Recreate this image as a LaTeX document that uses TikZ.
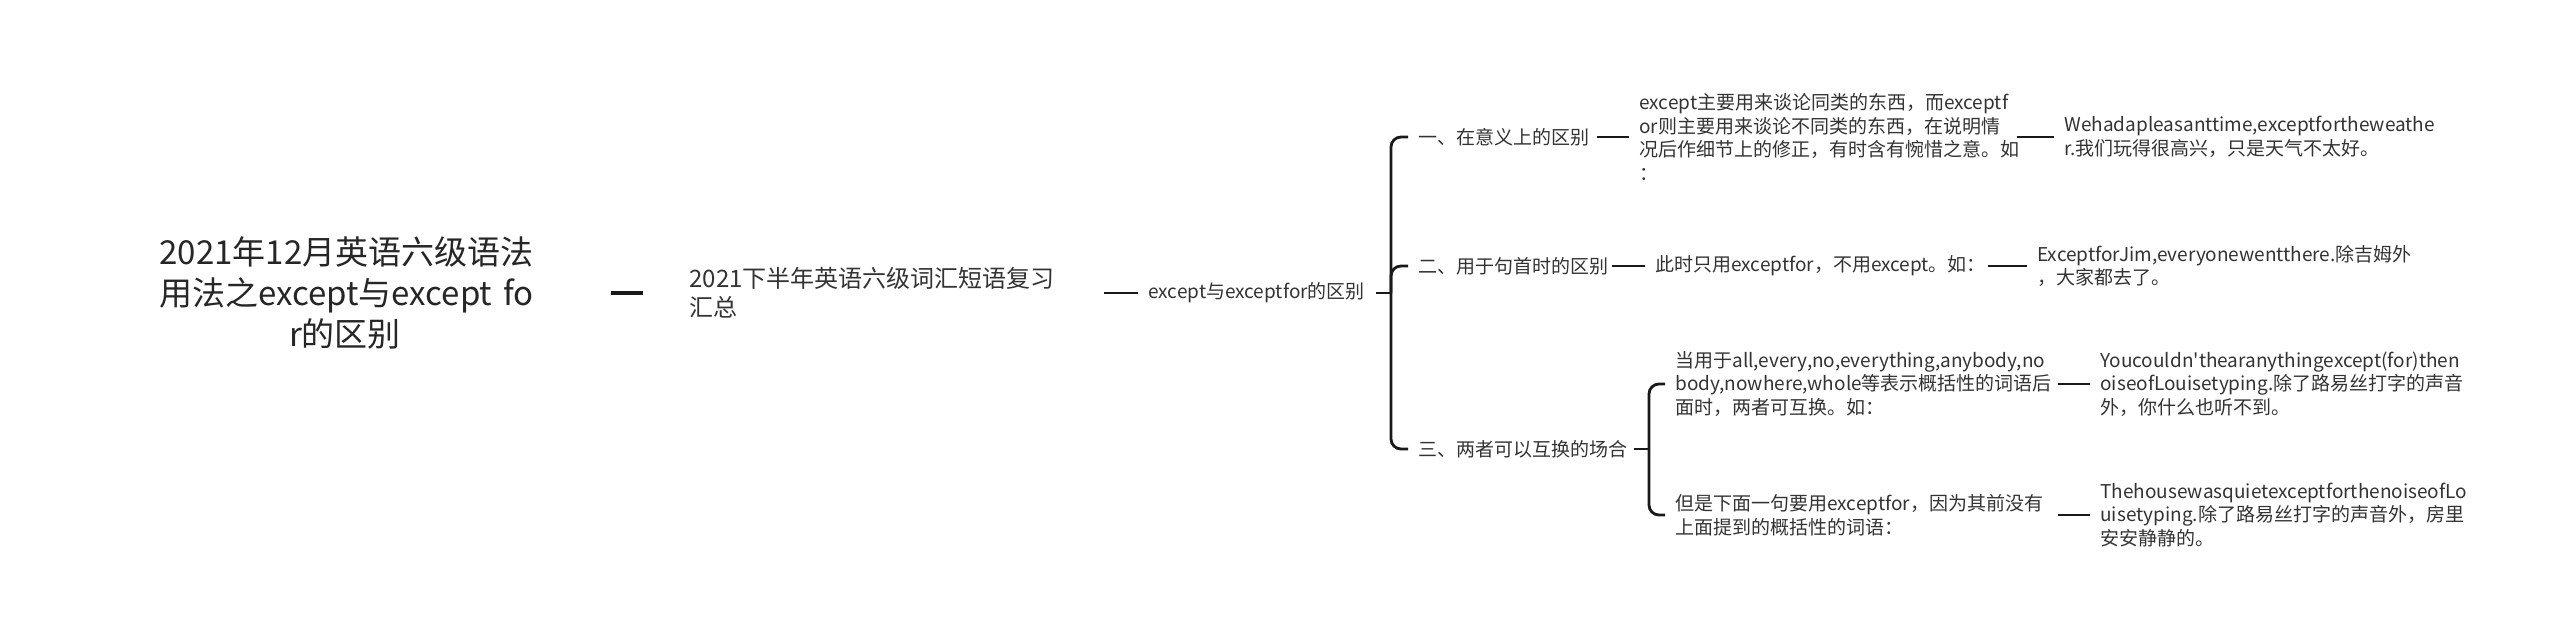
\documentclass[tikz,border=0pt]{standalone}
\usepackage{fontspec}
\setmainfont{Noto Sans CJK SC}[Ligatures=TeXOff]
\begin{document}
\begin{tikzpicture}[x=0.5pt, y=-0.5pt,
    testo/.style={anchor=west, align=left, inner xsep=5pt, inner ysep=2pt, text=black!80,
        font=\fontsize{9.5}{11.75}\selectfont},
    ramo/.style={draw=black!90, line width=1.4pt, rounded corners=5pt}]
    \useasboundingbox (0,0) rectangle (2560,639);

    % Nodo principale
    \node[align=center, text width=185.5pt, inner xsep=40pt, text=black!85,
        font=\fontsize{16.5}{20.5}\selectfont] (root) at (345,293)
        {2021年12月英语六级语法\\用法之except与except~fo\\r的区别};
    \node[testo, text width=184pt, inner xsep=23pt, font=\fontsize{12}{14.5}\selectfont] (vocab) at (643,293)
        {2021下半年英语六级词汇短语复习\\汇总};
    \node[testo, text width=108.5pt] (diff) at (1138,293) {except与exceptfor的区别};

    % Primo livello
    \node[testo, text width=84pt] (senso) at (1408,137) {一、在意义上的区别};
    \node[testo, text width=91.5pt] (inizio) at (1408,266) {二、用于句首时的区别};
    \node[testo, text width=102.5pt] (scambio) at (1408,449) {三、两者可以互换的场合};

    % Spiegazioni
    \node[testo, text width=183.5pt] (senso_d) at (1629,137)
        {except主要用来谈论同类的东西，而exceptf\\or则主要用来谈论不同类的东西，在说明情\\况后作细节上的修正，有时含有惋惜之意。如\\：};
    \node[testo, text width=161pt] (inizio_d) at (1645,266) {此时只用exceptfor，不用except。如：};
    \node[testo, text width=186pt] (scambio_a) at (1665,384)
        {当用于all,every,no,everything,anybody,no\\body,nowhere,whole等表示概括性的词语后\\面时，两者可互换。如：};
    \node[testo, text width=186pt] (scambio_b) at (1665,515)
        {但是下面一句要用exceptfor，因为其前没有\\上面提到的概括性的词语：};

    % Esempi
    \node[testo, text width=183.5pt] (senso_e) at (2054,137)
        {Wehadapleasanttime,exceptfortheweathe\\r.我们玩得很高兴，只是天气不太好。};
    \node[testo, text width=183.5pt] (inizio_e) at (2027,266)
        {ExceptforJim,everyonewentthere.除吉姆外\\，大家都去了。};
    \node[testo, text width=181pt] (scambio_ae) at (2090,384)
        {Youcouldn'thearanythingexcept(for)then\\oiseofLouisetyping.除了路易丝打字的声音\\外，你什么也听不到。};
    \node[testo, text width=183pt] (scambio_be) at (2090,515)
        {ThehousewasquietexceptforthenoiseofLo\\uisetyping.除了路易丝打字的声音外，房里\\安安静静的。};

    % Collegamenti
    \draw[draw=black!90, line width=1.8pt] (root.east) -- (vocab.west);
    \draw[ramo] (vocab.east) -- (diff.west);
    \coordinate (g1) at (1391,293);
    \draw[ramo] (diff.east) -- (g1);
    \draw[ramo] (g1) |- (senso.west);
    \draw[ramo] (g1) |- (inizio.west);
    \draw[ramo] (g1) |- (scambio.west);
    \coordinate (g2) at (1649,449);
    \draw[ramo] (scambio.east) -- (g2);
    \draw[ramo] (g2) |- (scambio_a.west);
    \draw[ramo] (g2) |- (scambio_b.west);
    \draw[ramo] (senso.east) -- (senso_d.west);
    \draw[ramo] (inizio.east) -- (inizio_d.west);
    \draw[ramo] (senso_d.east) -- (senso_e.west);
    \draw[ramo] (inizio_d.east) -- (inizio_e.west);
    \draw[ramo] (scambio_a.east) -- (scambio_ae.west);
    \draw[ramo] (scambio_b.east) -- (scambio_be.west);

\end{tikzpicture}
\end{document}
